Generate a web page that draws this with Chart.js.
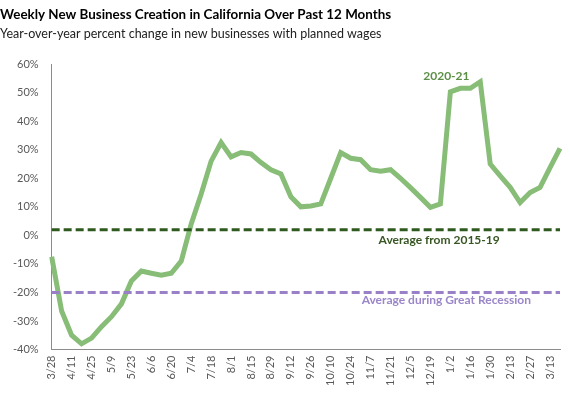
<!DOCTYPE html>
<html>
<head>
<meta charset="utf-8">
<script src="https://cdn.jsdelivr.net/npm/chart.js@4.4.1/dist/chart.umd.min.js"></script>
<style>
    html, body { margin: 0; padding: 0; background: #ffffff; }
    #wrap { position: relative; width: 570px; height: 397px; }
</style>
</head>
<body>
<div id="wrap"><canvas id="businessChart" width="570" height="397"></canvas></div>
<script>
// Weekly dates, 3/28/2020 through 3/20/2021.
const weeks = [
    "3/28", "4/4", "4/11", "4/18", "4/25", "5/2", "5/9", "5/16", "5/23", "5/30",
    "6/6", "6/13", "6/20", "6/27", "7/4", "7/11", "7/18", "7/25", "8/1", "8/8",
    "8/15", "8/22", "8/29", "9/5", "9/12", "9/19", "9/26", "10/3", "10/10", "10/17",
    "10/24", "10/31", "11/7", "11/14", "11/21", "11/28", "12/5", "12/12", "12/19", "12/26",
    "1/2", "1/9", "1/16", "1/23", "1/30", "2/6", "2/13", "2/20", "2/27", "3/6",
    "3/13", "3/20"
];

// Year-over-year % change, 2020-21.
const change2020 = [
    -7.5, -26.5, -35, -38, -36, -32, -28.5, -24, -16, -12.5,
    -13.3, -14, -13.3, -9, 4, 14.5, 26, 32.5, 27.5, 29,
    28.5, 25.5, 23, 21.5, 13.5, 10, 10.3, 11, 20, 29,
    27, 26.5, 23, 22.5, 23, 20, 16.7, 13.3, 9.8, 11,
    50.3, 51.5, 51.5, 53.8, 25, 20.8, 16.8, 11.5, 15, 16.8,
    23.7, 30.5
];

const avg2015to19 = 2;
const avgRecession = -20;

const yTicks = [-40, -30, -20, -10, 0, 10, 20, 30, 40, 50, 60];

const labelFont = "Lato, 'Open Sans', sans-serif";

// Text labels placed on the data scales.
const notes = [
    { text: "2020-21", x: 39.6, y: 55.8, color: "#5b8f45", align: "center" },
    { text: "Average from 2015-19", x: 32.8, y: -1.6, color: "#375623", align: "left" },
    { text: "Average during Great Recession", x: 31.1, y: -22.8, color: "#9a86c8", align: "left" }
];

const notePlugin = {
    id: "notes",
    afterDatasetsDraw(chart) {
        const ctx = chart.ctx;
        const xs = chart.scales.x;
        const ys = chart.scales.y;
        ctx.save();
        ctx.font = "bold 12px " + labelFont;
        ctx.textBaseline = "middle";
        notes.forEach((n) => {
            ctx.fillStyle = n.color;
            ctx.textAlign = n.align;
            ctx.fillText(n.text, xs.getPixelForValue(n.x), ys.getPixelForValue(n.y));
        });
        ctx.restore();
    }
};

const ctx = document.getElementById("businessChart").getContext("2d");
new Chart(ctx, {
    type: "line",
    data: {
        labels: weeks,
        datasets: [
            {
                data: weeks.map(() => avg2015to19),
                borderColor: "#2f5a1f",
                borderWidth: 3,
                borderDash: [8, 4],
                pointRadius: 0,
                fill: false
            },
            {
                data: weeks.map(() => avgRecession),
                borderColor: "#9a80c6",
                borderWidth: 3,
                borderDash: [8, 4],
                pointRadius: 0,
                fill: false
            },
            {
                data: change2020,
                borderColor: "#87bd76",
                borderWidth: 5,
                pointRadius: 0,
                tension: 0,
                fill: false
            }
        ]
    },
    options: {
        responsive: false,
        animation: false,
        layout: { padding: { left: 0, right: 10, top: 4, bottom: 5 } },
        plugins: {
            legend: { display: false },
            tooltip: { enabled: false },
            title: {
                display: true,
                text: "Weekly New Business Creation in California Over Past 12 Months",
                align: "start",
                color: "#000000",
                font: { family: labelFont, size: 13.4, weight: "bold" },
                padding: { top: 3, bottom: 3 }
            },
            subtitle: {
                display: true,
                text: "Year-over-year percent change in new businesses with planned wages",
                align: "start",
                color: "#222222",
                font: { family: labelFont, size: 12.5 },
                padding: { top: 0, bottom: 23 }
            }
        },
        scales: {
            x: {
                offset: false,
                grid: { display: false, drawTicks: false },
                border: { display: true, color: "#8c8c8c", width: 1 },
                afterFit: (scale) => {
                    scale.paddingRight = 0;
                },
                ticks: {
                    autoSkip: false,
                    maxRotation: 90,
                    minRotation: 90,
                    padding: 6,
                    color: "#595959",
                    font: { family: labelFont, size: 11 },
                    callback: (value, index) => (index % 2 === 0 ? weeks[index] : "")
                }
            },
            y: {
                min: -40,
                max: 60,
                grid: { display: false, drawTicks: false },
                border: { display: true, color: "#8c8c8c", width: 1 },
                afterBuildTicks: (axis) => {
                    axis.ticks = yTicks.map((v) => ({ value: v }));
                },
                ticks: {
                    padding: 13,
                    color: "#595959",
                    font: { family: labelFont, size: 11 },
                    callback: (value) => value + "%"
                }
            }
        }
    },
    plugins: [notePlugin]
});
</script>
</body>
</html>
